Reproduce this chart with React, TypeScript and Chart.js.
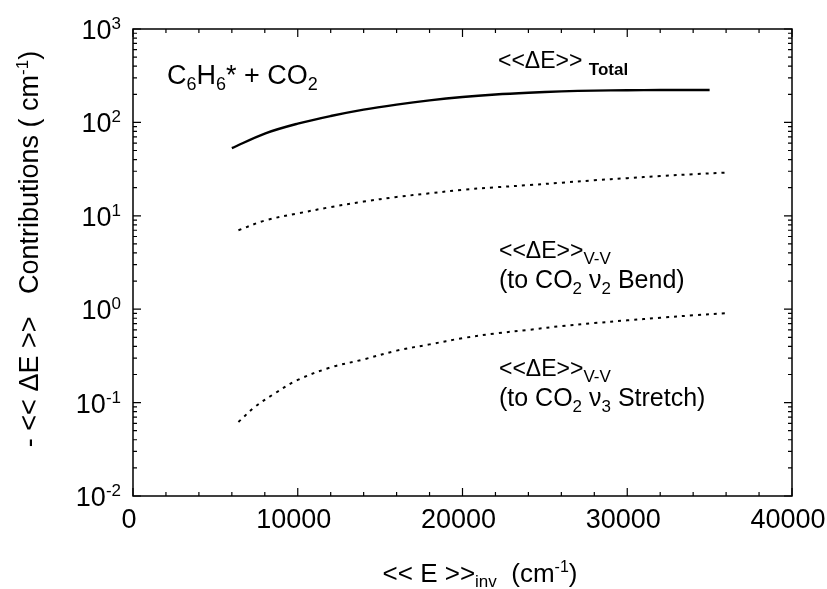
import React, { useEffect, useRef } from "react";
import { Chart, registerables } from "chart.js";

Chart.register(...registerables);

// Mean energy transferred per collision, C6H6* + CO2
const totalE = [6000, 8000, 10000, 12000, 14000, 16000, 18000, 20000, 22000, 24000, 26000, 28000, 30000, 32000, 35000];
const totalVal = [53, 76, 97, 117, 137, 155, 172, 187, 199, 208, 215, 219, 221, 222, 222];

const bendE = [6400, 8000, 10000, 12000, 14000, 16000, 18000, 20000, 22000, 24000, 26000, 28000, 30000, 32000, 34000, 36000];
const bendVal = [7.0, 8.9, 10.6, 12.4, 14.2, 15.9, 17.4, 19.0, 20.2, 21.3, 22.6, 24.0, 25.3, 26.6, 27.9, 29.0];

const stretchE = [6400, 7400, 8500, 10000, 12000, 14000, 16000, 18000, 20000, 22000, 24000, 26000, 28000, 30000, 32000, 34000, 36000];
const stretchVal = [0.062, 0.09, 0.122, 0.175, 0.238, 0.29, 0.36, 0.42, 0.49, 0.55, 0.6, 0.66, 0.71, 0.76, 0.81, 0.86, 0.905];

const xTickValues = [0, 10000, 20000, 30000, 40000];
const yTickExponents = [-2, -1, 0, 1, 2, 3];

const FONT = '"Liberation Sans", Arial, Helvetica, sans-serif';

type Part = { t: string; size: number; dy?: number; bold?: boolean };

function drawRich(ctx: CanvasRenderingContext2D, x: number, y: number, parts: Part[], align: "left" | "center" | "right") {
  let w = 0;
  for (const p of parts) {
    ctx.font = `${p.bold ? "bold " : ""}${p.size}px ${FONT}`;
    w += ctx.measureText(p.t).width;
  }
  let cx = align === "center" ? x - w / 2 : align === "right" ? x - w : x;
  ctx.textAlign = "left";
  ctx.textBaseline = "alphabetic";
  for (const p of parts) {
    ctx.font = `${p.bold ? "bold " : ""}${p.size}px ${FONT}`;
    ctx.fillText(p.t, cx, y + (p.dy || 0));
    cx += ctx.measureText(p.t).width;
  }
}

const framePlugin = {
  id: "frameAndText",
  afterDraw(chart: any) {
    const ctx: CanvasRenderingContext2D = chart.ctx;
    const { left, right, top, bottom } = chart.chartArea;
    const xs = chart.scales.x;
    const ys = chart.scales.y;
    ctx.save();
    ctx.strokeStyle = "#000";
    ctx.fillStyle = "#000";
    ctx.lineWidth = 1.5;
    ctx.strokeRect(left, top, right - left, bottom - top);

    // inward ticks on all four sides
    ctx.lineWidth = 1.2;
    ctx.beginPath();
    for (let v = 0; v <= 40000; v += 2000) {
      const px = xs.getPixelForValue(v);
      const len = v % 10000 === 0 ? 8 : 4;
      ctx.moveTo(px, bottom);
      ctx.lineTo(px, bottom - len);
      ctx.moveTo(px, top);
      ctx.lineTo(px, top + len);
    }
    for (let e = -2; e <= 3; e++) {
      for (let k = 1; k <= 9; k++) {
        if (e === 3 && k > 1) break;
        const py = ys.getPixelForValue(k * Math.pow(10, e));
        const len = k === 1 ? 8 : 4;
        ctx.moveTo(left, py);
        ctx.lineTo(left + len, py);
        ctx.moveTo(right, py);
        ctx.lineTo(right - len, py);
      }
    }
    ctx.stroke();

    // tick labels
    for (const v of xTickValues) {
      const px = xs.getPixelForValue(v);
      drawRich(ctx, px - 4, 528, [{ t: String(v), size: 27 }], "center");
    }
    for (const e of yTickExponents) {
      const py = ys.getPixelForValue(Math.pow(10, e));
      drawRich(ctx, 121, py + 10, [
        { t: "10", size: 27 },
        { t: String(e), size: 17, dy: -10 },
      ], "right");
    }

    // axis titles
    drawRich(ctx, 480, 582, [
      { t: "<< E >>", size: 26 },
      { t: "inv", size: 17, dy: 5 },
      { t: "  (cm", size: 26 },
      { t: "-1", size: 16, dy: -10 },
      { t: ")", size: 26 },
    ], "center");

    ctx.save();
    ctx.translate(38, 249);
    ctx.rotate(-Math.PI / 2);
    drawRich(ctx, 0, 0, [
      { t: "- << ΔE >>   Contributions ( cm", size: 27 },
      { t: "-1", size: 17, dy: -10 },
      { t: ")", size: 27 },
    ], "center");
    ctx.restore();

    // annotations
    drawRich(ctx, 167, 84, [
      { t: "C", size: 27 },
      { t: "6", size: 18, dy: 6 },
      { t: "H", size: 27 },
      { t: "6", size: 18, dy: 6 },
      { t: "* + CO", size: 27 },
      { t: "2", size: 18, dy: 6 },
    ], "left");

    drawRich(ctx, 498, 68, [
      { t: "<<ΔE>> ", size: 23 },
      { t: "Total", size: 17, dy: 7, bold: true },
    ], "left");

    drawRich(ctx, 499, 258, [
      { t: "<<ΔE>>", size: 23 },
      { t: "V-V", size: 17, dy: 6 },
    ], "left");
    drawRich(ctx, 499, 288, [
      { t: "(to CO", size: 25 },
      { t: "2", size: 17, dy: 6 },
      { t: " ν", size: 25 },
      { t: "2", size: 17, dy: 6 },
      { t: " Bend)", size: 25 },
    ], "left");

    drawRich(ctx, 499, 376, [
      { t: "<<ΔE>>", size: 23 },
      { t: "V-V", size: 17, dy: 6 },
    ], "left");
    drawRich(ctx, 499, 406, [
      { t: "(to CO", size: 25 },
      { t: "2", size: 17, dy: 6 },
      { t: " ν", size: 25 },
      { t: "3", size: 17, dy: 6 },
      { t: " Stretch)", size: 25 },
    ], "left");

    ctx.restore();
  },
};

function toPoints(xs: number[], ys: number[]) {
  return xs.map((x, i) => ({ x, y: ys[i] }));
}

export default function App() {
  const ref = useRef<HTMLCanvasElement | null>(null);

  useEffect(() => {
    if (!ref.current) return;
    const chart = new Chart(ref.current, {
      type: "line",
      data: {
        datasets: [
          {
            label: "Total",
            data: toPoints(totalE, totalVal),
            borderColor: "#000",
            borderWidth: 2.4,
            tension: 0.35,
            pointRadius: 0,
          },
          {
            label: "V-V bend",
            data: toPoints(bendE, bendVal),
            borderColor: "#000",
            borderWidth: 2,
            borderDash: [3, 5],
            tension: 0.35,
            pointRadius: 0,
          },
          {
            label: "V-V stretch",
            data: toPoints(stretchE, stretchVal),
            borderColor: "#000",
            borderWidth: 2,
            borderDash: [3, 5],
            tension: 0.35,
            pointRadius: 0,
          },
        ],
      },
      options: {
        responsive: false,
        animation: false,
        layout: { padding: { left: 133, right: 35, top: 29, bottom: 93 } },
        scales: {
          x: { type: "linear", min: 0, max: 40000, display: false },
          y: { type: "logarithmic", min: 0.01, max: 1000, display: false },
        },
        plugins: { legend: { display: false }, tooltip: { enabled: false } },
      },
      plugins: [framePlugin],
    });
    return () => chart.destroy();
  }, []);

  return (
    <div style={{ position: "fixed", left: 0, top: 0, width: 827, height: 589, background: "#fff" }}>
      <canvas ref={ref} width={827} height={589} />
    </div>
  );
}
